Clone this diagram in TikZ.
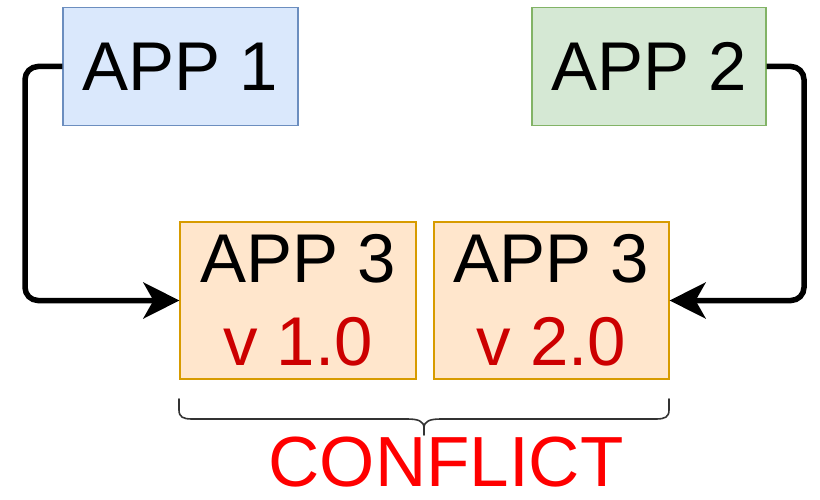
\documentclass[tikz,border=0pt]{standalone}
\usepackage{fontspec}
\setmainfont{Liberation Sans}
\usetikzlibrary{arrows.meta}
\definecolor{blueFill}{HTML}{DAE8FC}
\definecolor{blueLine}{HTML}{6C8EBF}
\definecolor{greenFill}{HTML}{D5E8D4}
\definecolor{greenLine}{HTML}{82B366}
\definecolor{orangeFill}{HTML}{FFE6CC}
\definecolor{orangeLine}{HTML}{D79B00}
\definecolor{verRed}{HTML}{CC0000}
\definecolor{braceGray}{HTML}{333333}
\begin{document}
\begin{tikzpicture}[x=1pt,y=-1pt,
  appbox/.style={draw, line width=1.2pt, inner sep=0pt, align=center,
    font=\fontsize{69}{83}\selectfont},
  conn/.style={line width=5.5pt, rounded corners=13pt,
    -{Stealth[length=36pt,width=36pt,inset=10pt]}},
  bracepath/.style={draw=braceGray, line width=1.6pt, line cap=round}]
  \useasboundingbox[fill=white] (0,0) rectangle (820,500);

  % application boxes
  \node[appbox, fill=blueFill, draw=blueLine, minimum width=235pt, minimum height=118pt]
    (app1) at (180.5,66.5) {APP 1};
  \node[appbox, fill=greenFill, draw=greenLine, minimum width=234pt, minimum height=118pt]
    (app2) at (649,66.5) {APP 2};
  \node[appbox, fill=orangeFill, draw=orangeLine, minimum width=236pt, minimum height=157pt]
    (v1) at (298,300.5) {APP 3\\\textcolor{verRed}{v 1.0}};
  \node[appbox, fill=orangeFill, draw=orangeLine, minimum width=235pt, minimum height=157pt]
    (v2) at (551.5,300.5) {APP 3\\\textcolor{verRed}{v 2.0}};

  % dependency connectors
  \coordinate (leftbend) at (25,66.5);
  \coordinate (rightbend) at (804,66.5);
  \draw[conn] (app1.west) -- (leftbend) |- (v1.west);
  \draw[conn] (app2.east) -- (rightbend) |- (v2.east);

  % brace under both versions
  \path[bracepath] (179,399) -- (179,410) .. controls (179,417) and (183,419) .. (192,419)
    -- (407,419) .. controls (418,419) and (424,421) .. (424,428) -- (424,435);
  \path[bracepath] (669,399) -- (669,410) .. controls (669,417) and (665,419) .. (656,419)
    -- (441,419) .. controls (430,419) and (424,421) .. (424,428);

  \node[text=red, font=\fontsize{71}{71}\selectfont, inner sep=0pt] (conflict)
    at (446,462) {CONFLICT};
\end{tikzpicture}
\end{document}
